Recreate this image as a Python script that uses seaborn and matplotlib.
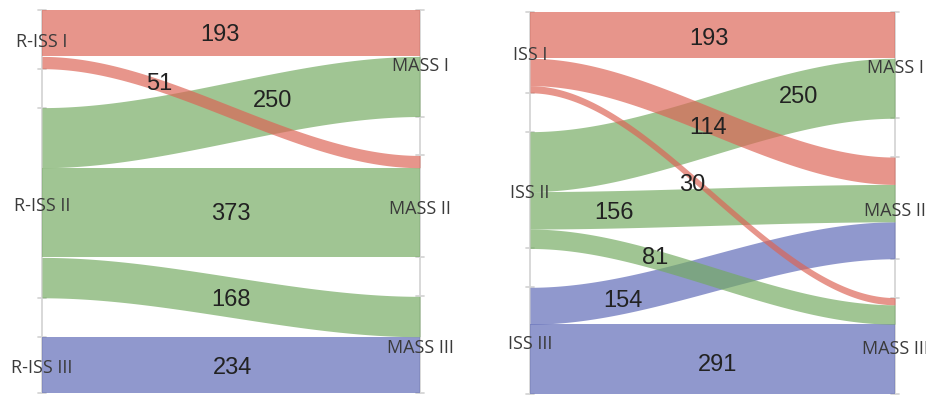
import numpy as np
import matplotlib
matplotlib.use("Agg")
import matplotlib.pyplot as plt
import seaborn as sns

# ---------------- data ----------------
left_sources = ["R-ISS I", "R-ISS II", "R-ISS III"]
right_sources = ["ISS I", "ISS II", "ISS III"]
targets = ["MASS I", "MASS II", "MASS III"]

left_src = [0, 0, 1, 1, 1, 2]
left_tgt = [0, 1, 0, 1, 2, 2]
left_val = [193, 51, 250, 373, 168, 234]

right_src = [0, 0, 0, 1, 1, 1, 2, 2]
right_tgt = [0, 1, 2, 0, 1, 2, 1, 2]
right_val = [193, 114, 30, 250, 156, 81, 154, 291]

# label placement along each flow: fraction of width, pixel offset
left_lab_t = [0.47, 0.31, 0.61, 0.5, 0.5, 0.505]
left_lab_dy = [2, -1, -3, 1, 3, 3]
right_lab_t = [0.49, 0.488, 0.444, 0.737, 0.23, 0.342, 0.255, 0.515]
right_lab_dy = [4, 8, 8, -4, 4, -1, 6, 6]

# ---------------- style ----------------
sns.set_theme(style="white")
plt.rcParams["font.family"] = ["DejaVu Sans"]
palette = sns.color_palette(["#dc6354", "#73aa60", "#5c68b6"])
ALPHA = 0.68
GAP = 162
AXIS_COLOR = "#d6d6d6"
NODE_DY = 3

fig = plt.figure(figsize=(9.26, 3.96), dpi=100)
W, H = 926, 396


def smooth(t):
    return 3 * t ** 2 - 2 * t ** 3


def node_starts(sizes):
    starts, pos = [], 0.0
    for s in sizes:
        starts.append(pos)
        pos += s + GAP
    return starts


def draw_panel(rect_px, src_names, src, tgt, val, lab_t, lab_dy):
    x0, y0, x1, y1 = rect_px
    ax = fig.add_axes([x0 / W, (H - y1) / H, (x1 - x0) / W, (y1 - y0) / H])
    ns, nt = len(src_names), len(targets)
    src_size = [sum(v for s, v in zip(src, val) if s == i) for i in range(ns)]
    tgt_size = [sum(v for t, v in zip(tgt, val) if t == j) for j in range(nt)]
    total = sum(val) + GAP * 2
    ax.set_xlim(0, 1)
    ax.set_ylim(total, 0)
    ax.axis("off")
    px_per_unit = (y1 - y0) / total
    px_per_x = (x1 - x0)

    s_start = node_starts(src_size)
    t_start = node_starts(tgt_size)
    s_off = list(s_start)
    order_src = sorted(range(len(val)), key=lambda k: (src[k], tgt[k]))
    flow_src_pos = {}
    for k in order_src:
        flow_src_pos[k] = s_off[src[k]]
        s_off[src[k]] += val[k]
    t_off = list(t_start)
    order_tgt = sorted(range(len(val)), key=lambda k: (tgt[k], src[k]))
    flow_tgt_pos = {}
    for k in order_tgt:
        flow_tgt_pos[k] = t_off[tgt[k]]
        t_off[tgt[k]] += val[k]

    xs = np.linspace(0, 1, 300)
    draw_order = sorted(range(len(val)), key=lambda k: (-src[k], k))
    for k in draw_order:
        a, b = flow_src_pos[k], flow_tgt_pos[k]
        top = a + (b - a) * smooth(xs)
        ax.fill_between(xs, top, top + val[k], color=palette[src[k]],
                        alpha=ALPHA, linewidth=0, zorder=2)

    # axis lines with ticks at node boundaries
    tick = 4.0 / px_per_x
    ax.plot([0, 0], [0, total], color=AXIS_COLOR, lw=1.3, zorder=1, clip_on=False)
    ax.plot([1, 1], [0, total], color=AXIS_COLOR, lw=1.3, zorder=1, clip_on=False)
    for st, sz in zip(s_start, src_size):
        for yy in (st, st + sz):
            ax.plot([-tick, tick], [yy, yy], color=AXIS_COLOR, lw=1.3, zorder=1, clip_on=False)
    for st, sz in zip(t_start, tgt_size):
        for yy in (st, st + sz):
            ax.plot([1 - tick, 1 + tick], [yy, yy], color=AXIS_COLOR, lw=1.3, zorder=1, clip_on=False)

    # node labels
    ndy = NODE_DY / px_per_unit
    for name, st, sz in zip(src_names, s_start, src_size):
        ax.text(0, st + sz / 2 + ndy, name, ha="center", va="center", fontsize=13,
                family=["Open Sans", "DejaVu Sans"], color="#3a3a3a", zorder=5, clip_on=False)
    for name, st, sz in zip(targets, t_start, tgt_size):
        ax.text(1, st + sz / 2 + ndy, name, ha="center", va="center", fontsize=13,
                family=["Open Sans", "DejaVu Sans"], color="#3a3a3a", zorder=5, clip_on=False)

    # value labels
    for k in range(len(val)):
        a, b = flow_src_pos[k], flow_tgt_pos[k]
        t = lab_t[k]
        yc = a + (b - a) * smooth(t) + val[k] / 2 + lab_dy[k] / px_per_unit
        ax.text(t, yc, str(val[k]), ha="center", va="center", fontsize=17,
                family=["Liberation Sans", "DejaVu Sans"], color="#222222", zorder=6)
    return ax


draw_panel((42, 10, 420, 393), left_sources, left_src, left_tgt, left_val, left_lab_t, left_lab_dy)
draw_panel((530, 12, 895, 394), right_sources, right_src, right_tgt, right_val, right_lab_t, right_lab_dy)

fig.savefig("out.png", dpi=100)
